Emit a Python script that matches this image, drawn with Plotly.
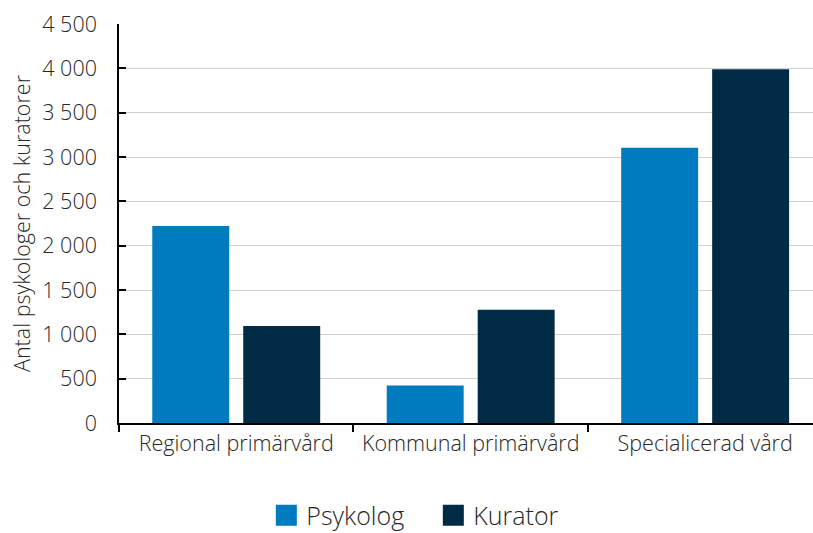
import plotly.graph_objects as go

categories = ["Regional primärvård", "Kommunal primärvård", "Specialicerad vård"]
psykolog = [2222, 424, 3105]
kurator = [1094, 1278, 3990]
y_ticks = [0, 500, 1000, 1500, 2000, 2500, 3000, 3500, 4000, 4500]
y_tick_labels = ["0", "500", "1 000", "1 500", "2 000", "2 500", "3 000", "3 500", "4 000", "4 500"]

FONT = "Open Sans"
TXT = "#262626"
C_PSY = "#007bc0"
C_KUR = "#002b45"

fig = go.Figure()
fig.add_trace(go.Bar(name="Psykolog", x=categories, y=psykolog, showlegend=False,
                     marker=dict(color=C_PSY, line=dict(width=0))))
fig.add_trace(go.Bar(name="Kurator", x=categories, y=kurator, showlegend=False,
                     marker=dict(color=C_KUR, line=dict(width=0))))
# legend entries with large square swatches
fig.add_trace(go.Scatter(name="Psykolog", x=[None], y=[None], mode="markers",
                         marker=dict(symbol="square", size=16, color=C_PSY,
                                     line=dict(width=6, color=C_PSY))))
fig.add_trace(go.Scatter(name="Kurator", x=[None], y=[None], mode="markers",
                         marker=dict(symbol="square", size=16, color=C_KUR,
                                     line=dict(width=6, color=C_KUR))))

fig.update_layout(
    width=813, height=533,
    margin=dict(l=119, r=0, t=24, b=110, autoexpand=False),
    paper_bgcolor="white", plot_bgcolor="white",
    barmode="group", bargap=0.224, bargroupgap=0.154,
    font=dict(family=FONT, color=TXT, size=21, weight=300),
    legend=dict(orientation="h", x=0.533, xanchor="center", xref="container",
                y=0.033, yanchor="middle", yref="container",
                font=dict(size=25, color=TXT, weight=300),
                entrywidth=122, entrywidthmode="pixels",
                itemwidth=30, traceorder="normal"),
    showlegend=True,
)
fig.update_xaxes(
    range=[-0.5, 2.46],
    showline=True, linecolor="#000000", linewidth=1.5,
    ticks="outside", tickson="boundaries", ticklen=7, tickcolor="#000000", tickwidth=1.5,
    tickfont=dict(size=21.5, color=TXT, weight=300), showgrid=False, automargin=False,
)
fig.update_yaxes(
    range=[0, 4500], tickvals=y_ticks, ticktext=y_tick_labels,
    showline=True, linecolor="#000000", linewidth=1.5,
    ticks="inside", ticklen=7, tickcolor="#000000", tickwidth=1.5,
    ticklabelstandoff=16,
    showgrid=True, gridcolor="#d0d0d0", gridwidth=1.2,
    tickfont=dict(size=21.5, color=TXT, weight=300), zeroline=False, automargin=False,
    title=dict(text="Antal psykologer och kuratorer", font=dict(size=21.5, color=TXT, weight=300), standoff=6),
)
fig.write_html("out.html")
